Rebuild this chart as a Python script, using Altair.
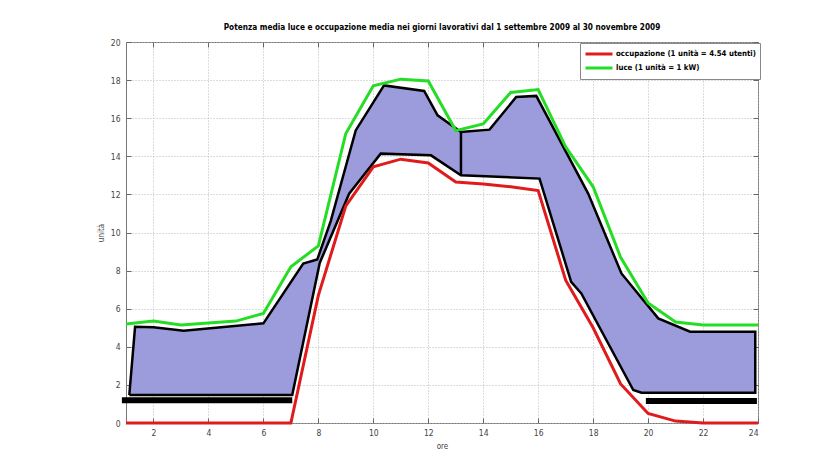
import altair as alt
import pandas as pd

# ---------------- data ----------------
hours = list(range(1, 25))
luce = [5.2, 5.35, 5.15, 5.25, 5.35, 5.75, 8.2, 9.3, 15.2, 17.7, 18.05, 17.95,
        15.35, 15.7, 17.35, 17.5, 14.5, 12.4, 8.7, 6.3, 5.3, 5.15, 5.15, 5.15]
occupazione = [0, 0, 0, 0, 0, 0, 0, 6.7, 11.4, 13.45, 13.85, 13.65,
               12.65, 12.55, 12.4, 12.2, 7.5, 5.0, 2.05, 0.5, 0.1, 0, 0, 0]

# outline of the shaded band (path order: lower edge L->R, upper edge R->L)
band_x = [1.12, 7.05, 8.05, 9.12, 10.27, 12.1, 13.19, 16.05, 17.2, 17.57, 19.46, 19.76, 23.9,
          23.9, 21.53, 20.37, 19.03, 17.82, 15.93, 15.2, 14.23, 13.19, 12.34, 11.85, 10.39,
          9.36, 8.45, 7.96, 7.45, 6.0, 3.1, 2.0, 1.33, 1.12]
band_y = [1.47, 1.47, 8.4, 12.04, 14.14, 14.05, 13.0, 12.83, 7.41, 6.8, 1.73, 1.59, 1.59,
          4.79, 4.79, 5.49, 7.85, 12.04, 17.17, 17.11, 15.4, 15.28, 16.15, 17.43, 17.72,
          15.36, 10.6, 8.58, 8.37, 5.23, 4.84, 5.02, 5.05, 1.47]

divider_x = [13.19]
divider_top = [15.28]
divider_bottom = [13.0]

bar_start = [0.85, 19.92]
bar_end = [7.05, 23.96]
bar_y = [1.2, 1.15]

x_ticks = [2, 4, 6, 8, 10, 12, 14, 16, 18, 20, 22, 24]
y_ticks = [0, 2, 4, 6, 8, 10, 12, 14, 16, 18, 20]

series_names = ["occupazione (1 unità = 4.54 utenti)", "luce (1 unità = 1 kW)"]
series_colors = ["#e01b1b", "#25dd25"]

title_text = ("Potenza media luce e occupazione media nei giorni lavorativi "
              "dal 1 settembre 2009 al 30 novembre 2009")

# ---------------- tables ----------------
lines_df = pd.DataFrame({
    "ore": hours * 2,
    "valore": occupazione + luce,
    "serie": [series_names[0]] * len(hours) + [series_names[1]] * len(hours),
})
band_df = pd.DataFrame({"x": band_x, "y": band_y, "i": list(range(len(band_x)))})
divider_df = pd.DataFrame({"x": divider_x, "y": divider_top, "y2": divider_bottom})
bars_df = pd.DataFrame({"x": bar_start, "x2": bar_end, "y": bar_y})

# ---------------- styling ----------------
FONT = "'Liberation Sans Narrow', 'Arial Narrow', 'DejaVu Sans Condensed', 'Liberation Sans', sans-serif"
W, H = 632, 381
xs = alt.Scale(domain=[1, 24], nice=False, zero=False)
ys = alt.Scale(domain=[0, 20], nice=False, zero=False)
TICK = "#666666"

x_main = alt.Axis(values=x_ticks, grid=True, ticks=False, domain=False,
                  labelFont=FONT, labelFontSize=8.5, labelColor="#444", labelPadding=5,
                  gridColor="#b8b8b8", gridDash=[1, 2], gridWidth=1,
                  title="ore", titleFont=FONT, titleFontSize=8, titleFontWeight="normal",
                  titleColor="#444", titlePadding=6)
y_main = alt.Axis(values=y_ticks, grid=True, ticks=False, domain=False,
                  labelFont=FONT, labelFontSize=8.5, labelColor="#444", labelPadding=6,
                  gridColor="#b8b8b8", gridDash=[1, 2], gridWidth=1,
                  title="unità", titleFont=FONT, titleFontSize=8, titleFontWeight="normal",
                  titleColor="#444", titlePadding=5)
# inward ticks on all four sides (MATLAB box style)
x_in_bottom = alt.Axis(orient="top", offset=-H, values=x_ticks, labels=False, grid=False,
                       domain=False, tickSize=5, tickColor=TICK, title=None)
x_in_top = alt.Axis(orient="bottom", offset=-H, values=x_ticks, labels=False, grid=False,
                    domain=False, tickSize=5, tickColor=TICK, title=None)
y_in_left = alt.Axis(orient="right", offset=-W, values=y_ticks, labels=False, grid=False,
                     domain=False, tickSize=5, tickColor=TICK, title=None)
y_in_right = alt.Axis(orient="left", offset=-W, values=y_ticks, labels=False, grid=False,
                      domain=False, tickSize=5, tickColor=TICK, title=None)

band = alt.Chart(band_df).mark_line(
    fill="#9c9cdc", stroke="black", strokeWidth=2.5, strokeJoin="miter"
).encode(
    x=alt.X("x:Q", scale=xs, axis=x_main),
    y=alt.Y("y:Q", scale=ys, axis=y_main),
    order=alt.Order("i:Q"),
)

divider = alt.Chart(divider_df).mark_rule(color="black", strokeWidth=2.5).encode(
    x=alt.X("x:Q", scale=xs, axis=x_in_top),
    y=alt.Y("y:Q", scale=ys, axis=y_in_right),
    y2="y2:Q",
)

lines = alt.Chart(lines_df).mark_line(strokeWidth=3).encode(
    x=alt.X("ore:Q", scale=xs, axis=x_in_bottom),
    y=alt.Y("valore:Q", scale=ys, axis=y_in_left),
    color=alt.Color("serie:N", sort=series_names,
                    scale=alt.Scale(domain=series_names, range=series_colors),
                    legend=alt.Legend(
                        title=None, orient="none", legendX=454, legendY=1,
                        fillColor="white", strokeColor="#888", padding=4,
                        symbolType="stroke", symbolSize=729, symbolStrokeWidth=3,
                        clipHeight=14, labelFont=FONT, labelFontSize=7.8,
                        labelFontWeight="bold", labelColor="black", labelOffset=2,
                        rowPadding=0, labelLimit=300)),
)

bars = alt.Chart(bars_df).mark_rule(color="black", strokeWidth=6, strokeCap="butt").encode(
    x=alt.X("x:Q", scale=xs, axis=None),
    x2="x2:Q",
    y=alt.Y("y:Q", scale=ys, axis=None),
)

chart = alt.layer(band, divider, lines, bars).resolve_axis(
    x="independent", y="independent"
).properties(
    width=W, height=H,
    title=alt.Title(title_text, font=FONT, fontSize=8.2, fontWeight="bold", color="black",
                    anchor="middle", offset=6),
    autosize=alt.AutoSizeParams(type="none"),
    padding={"left": 118, "top": 34, "right": 50, "bottom": 36},
    background="white",
).configure_view(stroke="#777", strokeWidth=1)

chart.save("out.html", embed_options={"renderer": "svg", "actions": False})
